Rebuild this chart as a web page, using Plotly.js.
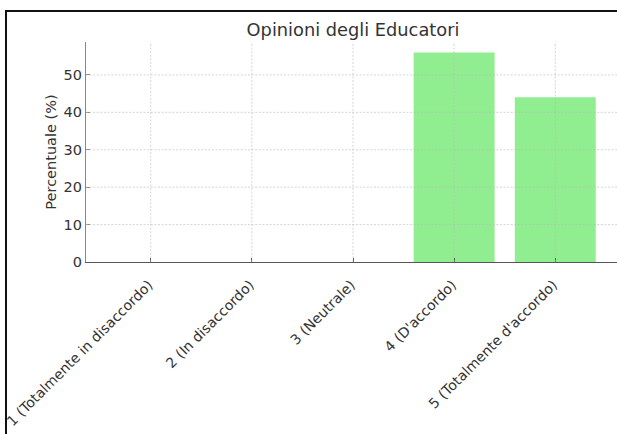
<!DOCTYPE html>
<html>
<head>
<meta charset="utf-8">
<script src="https://cdn.plot.ly/plotly-3.0.1.min.js"></script>
<style>
  html, body { margin:0; padding:0; background:#fff; overflow:hidden; width:617px; height:434px; }
  #chart { position:absolute; left:0; top:0; width:650px; height:434px; }
  #maskL { position:absolute; left:0; top:0; width:5px; height:434px; background:#fff; }
  #maskT { position:absolute; left:0; top:0; width:617px; height:10px; background:#fff; }
  #frameL { position:absolute; left:5px; top:10px; width:2px; height:424px; background:#111; }
  #frameT { position:absolute; left:5px; top:10px; width:612px; height:2px; background:#111; }
</style>
</head>
<body>
<div id="chart"></div>
<div id="maskL"></div><div id="maskT"></div>
<div id="frameL"></div><div id="frameT"></div>
<script>
const categories = [
  "1 (Totalmente in disaccordo)",
  "2 (In disaccordo)",
  "3 (Neutrale)",
  "4 (D'accordo)",
  "5 (Totalmente d'accordo)"
];
const percentages = [0, 0, 0, 56, 44];
const yTicks = [0, 10, 20, 30, 40, 50];
const titleText = "Opinioni degli Educatori";
const yTitleText = "Percentuale (%)";

const font = "DejaVu Sans, sans-serif";
const gridColor = "rgba(185,185,185,0.75)";

const shapes = [];
yTicks.filter(v => v > 0).forEach(v => shapes.push({
  type: "line", layer: "above", xref: "paper", x0: 0, x1: 1, yref: "y", y0: v, y1: v,
  line: { color: gridColor, width: 0.8, dash: "2px,1.6px" }
}));
categories.forEach(c => shapes.push({
  type: "line", layer: "above", xref: "x", x0: c, x1: c, yref: "paper", y0: 0, y1: 1,
  line: { color: gridColor, width: 0.8, dash: "2px,1.6px" }
}));

const trace = {
  type: "bar",
  x: categories,
  y: percentages,
  width: 0.8,
  marker: { color: "#90EE90", line: { width: 0 } },
  hoverinfo: "skip"
};

const layout = {
  width: 650, height: 434,
  margin: { l: 86, r: 30, t: 42, b: 172 },
  paper_bgcolor: "#fff", plot_bgcolor: "#fff",
  showlegend: false,
  font: { family: font, color: "#333", size: 14.5 },
  title: { text: titleText, font: { family: font, size: 17.8, color: "#333" },
           x: 353 / 650, xanchor: "center", y: 1 - 30 / 434, yanchor: "middle" },
  xaxis: {
    type: "category", range: [-0.64, 4.64],
    tickangle: -45, tickfont: { family: font, size: 14, color: "#333" },
    ticklabelstandoff: 8, ticklabelshift: -2,
    showgrid: false, zeroline: false,
    showline: true, linecolor: "#555", linewidth: 1.2,
    ticks: "inside", ticklen: 4, tickcolor: "#555", tickwidth: 1,
    layer: "above traces"
  },
  yaxis: {
    range: [0, 58.8], tickvals: yTicks,
    tickfont: { family: font, size: 14.5, color: "#333" },
    title: { text: yTitleText, font: { family: font, size: 14.5, color: "#333" }, standoff: 3 },
    showgrid: false, zeroline: false,
    showline: true, linecolor: "#888", linewidth: 1.2,
    ticks: "inside", ticklen: 4, tickcolor: "#888", tickwidth: 1,
    layer: "above traces"
  },
  shapes: shapes
};

Plotly.newPlot("chart", [trace], layout, { displayModeBar: false, staticPlot: true });
</script>
</body>
</html>
